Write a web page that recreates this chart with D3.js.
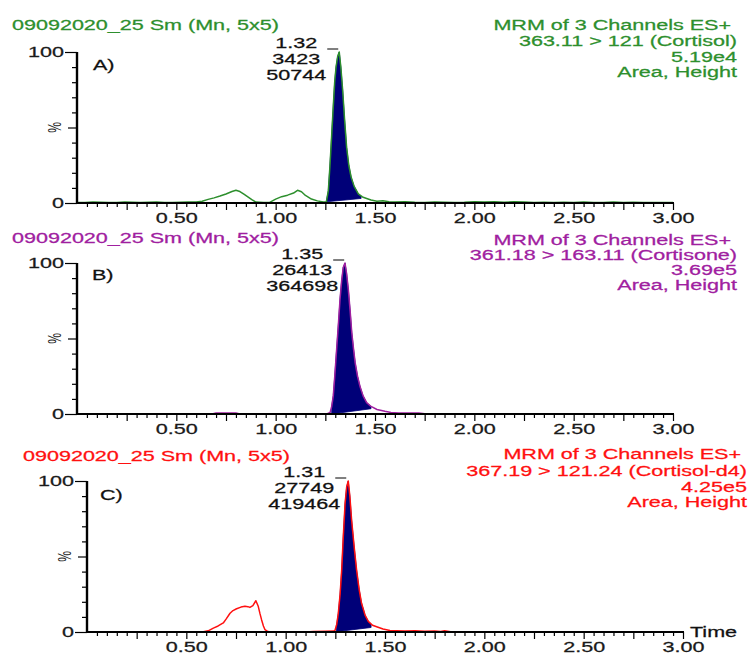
<!DOCTYPE html>
<html><head><meta charset="utf-8">
<script src="https://cdn.jsdelivr.net/npm/d3@7"></script>
<style>html,body{margin:0;padding:0;background:#fff;}svg{display:block;}</style>
</head><body>
<svg id="chart" width="749" height="655"></svg>
<script>
// ---------------- data ----------------
const sampleName = "09092020_25 Sm (Mn, 5x5)";
const channelInfo = [
  ["MRM of 3 Channels ES+", "363.11 > 121 (Cortisol)", "5.19e4", "Area, Height"],
  ["MRM of 3 Channels ES+", "361.18 > 163.11 (Cortisone)", "3.69e5", "Area, Height"],
  ["MRM of 3 Channels ES+", "367.19 > 121.24 (Cortisol-d4)", "4.25e5", "Area, Height"]
];
const panelLetters = ["A)", "B)", "C)"];
const peakRT = [1.32, 1.35, 1.31];
const peakArea = [3423, 26413, 27749];
const peakHeight = [50744, 364698, 419464];

const traceA = [[0.00,0.3],[0.04,0.3],[0.08,0.6],[0.12,0.5],[0.16,0.3],[0.20,0.3],[0.24,0.6],[0.28,0.5],[0.32,0.3],[0.36,0.5],[0.40,0.6],[0.44,0.4],[0.48,0.3],[0.52,0.5],[0.56,0.6],[0.60,0.6],[0.63,1.2],[0.66,2.4],[0.69,3.4],[0.72,4.6],[0.75,6.0],[0.78,7.6],[0.80,8.4],[0.82,7.6],[0.84,5.8],[0.86,4.0],[0.88,2.2],[0.90,0.6],[0.94,0.3],[0.97,0.4],[1.00,2.6],[1.03,4.2],[1.06,5.2],[1.09,6.6],[1.11,8.4],[1.13,7.5],[1.15,5.0],[1.18,2.6],[1.21,1.4],[1.24,0.6],[1.255,0.8],[1.265,8],[1.273,24],[1.282,45],[1.29,64],[1.297,80],[1.304,90],[1.312,97],[1.32,100],[1.328,90],[1.337,75],[1.347,55],[1.357,37],[1.368,25],[1.38,17],[1.395,11],[1.416,6],[1.437,4],[1.458,3],[1.48,2],[1.51,1.2],[1.54,1.5],[1.57,0.8],[1.60,0.6],[1.65,0.9],[1.70,0.5],[1.75,0.4],[1.80,0.7],[1.85,0.5],[1.90,0.4],[1.95,0.5],[2.00,0.9],[2.05,0.6],[2.10,0.9],[2.15,0.5],[2.20,0.9],[2.25,0.6],[2.30,0.4],[2.35,0.5],[2.40,0.3],[2.45,0.5],[2.50,0.3],[2.55,0.6],[2.60,0.3],[2.65,0.3],[2.70,0.6],[2.75,0.3],[2.80,0.5],[2.85,0.3],[2.90,0.3],[2.95,0.3],[3.00,0.3]];

const traceB = [[0,0],[0.1,0],[0.2,0],[0.3,0],[0.4,0],[0.5,0],[0.6,0],[0.68,0],[0.70,0.6],[0.75,0.7],[0.80,0.6],[0.82,0],[0.9,0],[1.0,0],[1.1,0],[1.2,0],[1.26,0.2],[1.274,1],[1.282,5],[1.29,12],[1.298,26],[1.307,43],[1.316,60],[1.324,76],[1.332,88],[1.34,97],[1.349,100],[1.357,93],[1.366,82],[1.375,68],[1.383,54],[1.392,43],[1.40,34],[1.412,25],[1.425,18],[1.44,12],[1.458,7.5],[1.48,5],[1.51,3],[1.55,1.8],[1.58,1],[1.62,0.7],[1.66,0.6],[1.69,0.7],[1.72,0.6],[1.75,0.1],[1.8,0],[2.0,0],[2.2,0],[2.4,0],[2.6,0],[2.8,0],[3.0,0]];

const traceC = [[0,0],[0.1,0],[0.2,0],[0.3,0],[0.4,0],[0.5,0],[0.58,0],[0.61,0.8],[0.636,2.6],[0.66,4],[0.686,6],[0.70,8.5],[0.72,12.4],[0.735,14.2],[0.753,15.4],[0.775,16.5],[0.795,17],[0.81,16.8],[0.82,16.3],[0.835,17.5],[0.85,20.7],[0.862,17],[0.871,12],[0.879,8],[0.888,4],[0.896,1.5],[0.91,0.3],[0.93,0],[1.0,0],[1.1,0],[1.14,0.4],[1.2,0.5],[1.24,0.6],[1.248,1],[1.257,5],[1.265,12.4],[1.274,25],[1.282,41],[1.29,63],[1.299,85],[1.307,96],[1.315,100],[1.323,90],[1.332,74],[1.345,56],[1.357,41],[1.37,28],[1.382,19],[1.4,11],[1.416,7],[1.437,4.5],[1.458,3.5],[1.49,2],[1.525,1],[1.56,0.8],[1.6,0.6],[1.65,0.8],[1.7,0.5],[1.75,0.7],[1.78,0.4],[1.8,0.8],[1.83,0.2],[1.9,0],[2.0,0],[2.5,0],[3.0,0]];

const integrationRange = [[1.255, 1.43], [1.282, 1.48], [1.255, 1.43]];
const integrationBase = [[0.8, 3.0], [0.0, 3.5], [0.2, 3.0]];
const xTickLabels = [0.5, 1.0, 1.5, 2.0, 2.5, 3.0];
const yTickLabels = [0, 100];
const timeDomain = [0, 3];

// ---------------- layout / style ----------------
const SX = 1.54;
const FONT = "'Liberation Sans', Arial, sans-serif";
const FS = 14;
const panels = [
  {x0:77, x1:673, yTop:52, yBot:203, color:"#2d8f2d", hdrX:12, hdrY:25, rightX:737, rightYs:[25,41,57,72], letterX:93, letterY:65},
  {x0:77, x1:673, yTop:263, yBot:414, color:"#a020a0", hdrX:12, hdrY:238, rightX:737, rightYs:[240,255,270,285], letterX:92, letterY:275},
  {x0:87, x1:683, yTop:481, yBot:632, color:"#ff1010", hdrX:23, hdrY:456, rightX:747, rightYs:[454,471,487,502], letterX:100, letterY:495, time:true}
];
const traces = [traceA, traceB, traceC];

const svg = d3.select("#chart");

function label(g, x, y, str, anchor, fill, size) {
  return g.append("text")
    .attr("transform", `translate(${x},${y}) scale(${SX},1)`)
    .attr("text-anchor", anchor)
    .attr("dy", "0.36em")
    .attr("fill", fill)
    .attr("stroke", fill)
    .attr("stroke-width", 0.25)
    .style("font-family", FONT)
    .style("font-size", (size || FS) + "px")
    .text(str);
}

function interp(tr, t) {
  for (let i = 1; i < tr.length; i++) {
    if (tr[i][0] >= t) {
      const a = tr[i-1], b = tr[i];
      const f = (t - a[0]) / (b[0] - a[0]);
      return a[1] + f * (b[1] - a[1]);
    }
  }
  return tr[tr.length-1][1];
}

panels.forEach((p, k) => {
  const g = svg.append("g");
  const x = d3.scaleLinear().domain(timeDomain).range([p.x0, p.x1]);
  const y = d3.scaleLinear().domain([0, 100]).range([p.yBot, p.yTop]);
  const tr = traces[k];

  // integrated peak fill
  const [ts, te] = integrationRange[k];
  const [bs, be] = integrationBase[k];
  const top = [[ts, interp(tr, ts)]].concat(tr.filter(d => d[0] > ts && d[0] < te)).concat([[te, interp(tr, te)]]);
  const poly = top.concat([[te, be], [ts, bs]]);
  g.append("path")
    .attr("d", d3.line().x(d => x(d[0])).y(d => y(d[1]))(poly) + "Z")
    .attr("fill", "#000078")
    .attr("stroke", "#000078")
    .attr("stroke-width", 0.8);

  // trace line
  g.append("path")
    .attr("d", d3.line().x(d => x(d[0])).y(d => y(d[1]))(tr))
    .attr("fill", "none")
    .attr("stroke", p.color)
    .attr("stroke-width", 1.5)
    .attr("stroke-linejoin", "round");

  // x axis
  const xTicks = d3.range(1, 61).map(i => i * 0.05);
  const xa = g.append("g").attr("transform", `translate(0,${p.yBot})`)
    .call(d3.axisBottom(x).tickValues(xTicks).tickSize(4).tickSizeOuter(0)
      .tickFormat(d => xTickLabels.some(v => Math.abs(v - d) < 1e-6) ? d3.format(".2f")(d) : ""));
  xa.select(".domain").remove();
  xa.selectAll(".tick line")
    .attr("y2", d => (Math.round(d * 20) % 5 === 0) ? 7 : 4)
    .attr("stroke", "#000").attr("stroke-width", 1.2);
  xa.selectAll(".tick text")
    .attr("y", 10).attr("dy", "0.71em")
    .attr("transform", `scale(${SX},1)`)
    .attr("fill", "#1a1a1a").attr("stroke", "#1a1a1a").attr("stroke-width", 0.25)
    .style("font-family", FONT).style("font-size", FS + "px");
  g.append("line").attr("x1", p.x0 - 1).attr("x2", p.x1 + 1)
    .attr("y1", p.yBot).attr("y2", p.yBot)
    .attr("stroke", "#000").attr("stroke-width", 2);

  // y axis
  const ya = g.append("g").attr("transform", `translate(${p.x0},0)`)
    .call(d3.axisLeft(y).tickValues(d3.range(0, 101, 10)).tickSize(5).tickSizeOuter(0)
      .tickFormat(d => yTickLabels.includes(d) ? d : ""));
  ya.select(".domain").remove();
  ya.selectAll(".tick line")
    .attr("x2", d => (d === 0 || d === 100) ? -12 : (d === 50 ? -9 : -5))
    .attr("stroke", "#000").attr("stroke-width", 1.2);
  ya.selectAll(".tick text")
    .attr("x", -13 / SX)
    .attr("transform", `scale(${SX},1)`)
    .attr("fill", "#1a1a1a").attr("stroke", "#1a1a1a").attr("stroke-width", 0.25)
    .style("font-family", FONT).style("font-size", FS + "px");
  g.append("line").attr("x1", p.x0).attr("x2", p.x0)
    .attr("y1", p.yTop).attr("y2", p.yBot + 1)
    .attr("stroke", "#000").attr("stroke-width", 2.4);

  // % label
  g.append("text")
    .attr("transform", `translate(${p.x0 - 23},${(p.yTop + p.yBot) / 2}) scale(${SX},1) rotate(-90)`)
    .attr("text-anchor", "middle").attr("dy", "0.36em")
    .attr("fill", "#1a1a1a")
    .style("font-family", FONT).style("font-size", "12px")
    .text("%");

  // headers
  label(g, p.hdrX, p.hdrY, sampleName, "start", p.color);
  channelInfo[k].forEach((s, i) => {
    label(g, p.rightX - (i === 0 ? 6 : 0), p.rightYs[i], s, "end", p.color);
  });

  // panel letter
  label(g, p.letterX, p.letterY, panelLetters[k], "start", "#111");

  // peak annotation
  const px = x(peakRT[k]);
  const lx = px - 43;
  label(g, lx, p.yTop - 9, peakRT[k].toFixed(2), "middle", "#111");
  label(g, lx, p.yTop + 7, String(peakArea[k]), "middle", "#111");
  label(g, lx, p.yTop + 23, String(peakHeight[k]), "middle", "#111");
  g.append("line").attr("x1", px - 12).attr("x2", px - 1)
    .attr("y1", p.yTop - 3).attr("y2", p.yTop - 3)
    .attr("stroke", "#000").attr("stroke-width", 1);

  if (p.time) label(g, p.x1 + 7, p.yBot, "Time", "start", "#111");
});
</script>
</body></html>
